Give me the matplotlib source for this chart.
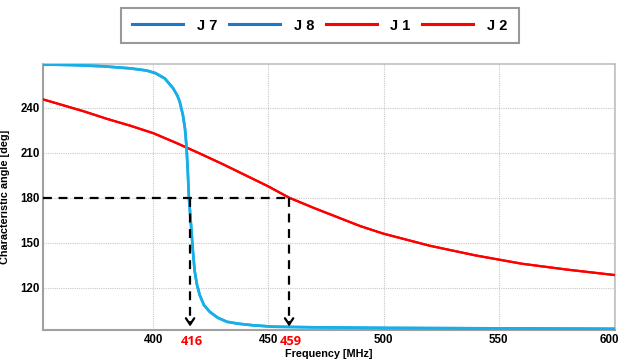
import matplotlib
matplotlib.use("Agg")
import matplotlib.pyplot as plt
from matplotlib.transforms import ScaledTranslation

# ---- data ----
freq_blue = [352, 365, 378, 390, 397, 401, 405, 408.6, 410.5, 411.5, 412.9, 413.8, 414.4,
             415.0, 415.5, 416.0, 416.5, 417.2, 418.0, 419.0, 420.2, 422, 424.5, 428, 432,
             437, 443, 452, 470, 500, 550, 600]
angle_blue = [268.8, 268.4, 267.6, 266.2, 264.8, 263, 259.5, 253, 248, 244, 235, 226, 215,
              198, 180, 170, 160, 145, 131, 122, 115, 108.5, 104, 100, 97.3,
              96, 95, 94, 93.6, 93.2, 92.9, 92.6]

freq_red = [352, 360, 370, 380, 390, 400, 410, 420, 430, 440, 450, 459, 470, 480, 490,
            500, 520, 540, 560, 580, 600]
angle_red = [245.6, 242, 237.5, 232.5, 228, 223, 216.5, 209.6, 202.5, 195, 187.5, 180,
             173, 167, 161, 156, 148, 141.5, 136, 132, 128.5]

legend_labels = ["J 7", "J 8", "J 1", "J 2"]
legend_colors = ["#1f78c8", "#1f78c8", "#ff0000", "#ff0000"]

marker_freqs = [416, 459]
marker_angle = 180

xticks = [400, 450, 500, 550, 600]
yticks = [120, 150, 180, 210, 240]

# ---- figure ----
plt.rcParams['font.family'] = ['Liberation Sans', 'DejaVu Sans']
fig = plt.figure(figsize=(6.22, 3.60), dpi=100)
ax = fig.add_axes([0.0686, 0.0833, 0.9194, 0.7389])

ax.set_xlim(352, 600.3)
ax.set_ylim(91.8, 269.1)

ax.grid(True, color="#c8c8c8", linestyle=(0, (1, 1)), linewidth=0.8)
ax.set_axisbelow(True)

ax.plot(freq_red, angle_red, color="#ff0000", lw=1.6, zorder=3)
ax.plot(freq_red, angle_red, color="#ff0000", lw=1.6, zorder=3)
ax.plot(freq_blue, angle_blue, color="#18aee8", lw=1.9, zorder=4)
ax.plot(freq_blue, angle_blue, color="#18aee8", lw=1.9, zorder=4)

# dashed guide lines
ax.plot([352, marker_freqs[1]], [marker_angle, marker_angle], color="black",
        lw=1.6, linestyle=(0, (4, 3)), zorder=5)
for f in marker_freqs:
    ax.plot([f, f], [marker_angle, 97], color="black", lw=1.6,
            linestyle=(0, (4, 3)), zorder=5)
    ax.annotate("", xy=(f, 92.3), xytext=(f, 99),
                arrowprops=dict(arrowstyle="->,head_length=0.45,head_width=0.3",
                                color="black", lw=1.6), zorder=6)
    ax.annotate(str(f), xy=(f, 91.8), xycoords="data", xytext=(1, -3.5),
                textcoords="offset points", ha="center", va="top",
                color="#ff0000", fontsize=9.3, fontweight="bold",
                family=["Open Sans", "DejaVu Sans"])

ax.set_xticks(xticks)
ax.set_yticks(yticks)
ax.set_xticklabels([str(t) for t in xticks], fontsize=8.3, fontweight="bold")
ax.set_yticklabels([str(t) for t in yticks], fontsize=8.3, fontweight="bold")
ax.tick_params(axis="y", length=0, pad=2)
ax.tick_params(axis="x", length=0, pad=3)
last = ax.get_xticklabels()[-1]
last.set_transform(last.get_transform() + ScaledTranslation(-3 / 72, 0, fig.dpi_scale_trans))

for s in ["left", "bottom"]:
    ax.spines[s].set_color("#a0a0a0")
    ax.spines[s].set_linewidth(1.5)
for s in ["top", "right"]:
    ax.spines[s].set_color("#c0c0c0")
    ax.spines[s].set_linewidth(1.2)

ax.set_xlabel("Frequency [MHz]", fontsize=7.8, fontweight="bold")
ax.set_ylabel("Characteristic angle [deg]", fontsize=7.8, fontweight="bold")
ax.xaxis.set_label_coords(0.5, -0.072)
ax.yaxis.set_label_coords(-0.058, 0.5)

# legend
handles = [plt.Line2D([], [], color=c, lw=2.2) for c in legend_colors]
leg = fig.legend(handles, legend_labels, loc="center", bbox_to_anchor=(0.514, 0.929),
                 ncol=4, frameon=True, fancybox=False, handlelength=3.5,
                 handletextpad=0.95, columnspacing=0.8, borderpad=0.75,
                 borderaxespad=0, prop=dict(weight="bold", size=10.5))
leg.get_frame().set_edgecolor("#808080")
leg.get_frame().set_linewidth(1.5)

fig.savefig("out.png", dpi=100)
